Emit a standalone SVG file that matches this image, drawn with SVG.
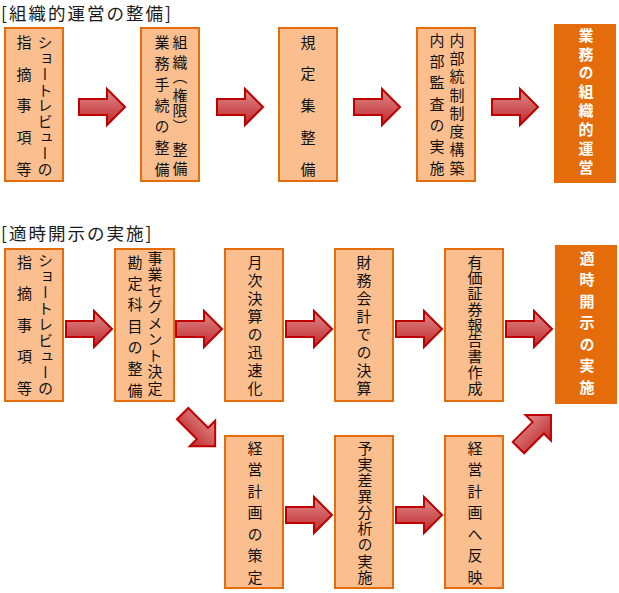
<svg xmlns="http://www.w3.org/2000/svg" xmlns:xlink="http://www.w3.org/1999/xlink" width="619" height="593" viewBox="0 0 619 593">
<style>
.title{font-family:"Noto Sans CJK JP","Noto Sans",sans-serif;font-size:17.5px;letter-spacing:2px;fill:#1a1a1a}
.box{fill:#FBBF8F;stroke:#E46C0A;stroke-width:2}
.dbox{fill:#E46C0A}
.vt{font-family:"Noto Sans CJK JP",sans-serif;font-size:15px;fill:#111;writing-mode:vertical-rl;text-anchor:middle}
.vw{font-family:"Noto Sans CJK JP",sans-serif;font-size:15px;font-weight:bold;fill:#fff;writing-mode:vertical-rl;text-anchor:middle}
.arr{fill:url(#ag);stroke:#C00000;stroke-width:2;stroke-linejoin:miter}
</style>
<defs>
<linearGradient id="ag" x1="0" y1="0" x2="0" y2="1">
<stop offset="0" stop-color="#DE8C8C"/>
<stop offset="1" stop-color="#C0282C"/>
</linearGradient>
<path id="arrow" class="arr" d="M0,-8 H28 V-18 L46,0 L28,18 V8 H0 Z"/>
</defs>
<rect width="619" height="593" fill="#fff"/>
<text class="title" x="1" y="19.5">[組織的運営の整備]</text>
<text class="title" x="1" y="240">[適時開示の実施]</text>

<g id="connectors">
<use href="#arrow" x="79" y="107"/>
<use href="#arrow" x="217" y="107"/>
<use href="#arrow" x="354" y="107"/>
<use href="#arrow" x="492" y="107"/>
<use href="#arrow" x="66" y="329"/>
<use href="#arrow" x="176" y="329"/>
<use href="#arrow" x="286" y="329"/>
<use href="#arrow" x="396" y="329"/>
<use href="#arrow" x="506" y="329"/>
<use href="#arrow" x="286" y="515"/>
<use href="#arrow" x="396" y="515"/>
<use href="#arrow" transform="translate(198.9,429.9) rotate(45) translate(-23,0)"/>
<use href="#arrow" transform="translate(534.7,431.3) rotate(-45) translate(-23,0)"/>
</g>

<g id="n1">
<rect class="box" x="5" y="28" width="58" height="153"/>
<text class="vt" x="45" y="42 58 74 90 105.5 121 137 153 169">ショートレビューの</text>
<text class="vt" x="24" y="42 74 105.5 137 169">指摘事項等</text>
</g>
<g id="n2">
<rect class="box" x="141" y="28" width="58" height="153"/>
<text class="vt" x="180" y="42 62 76 95 110 126 149 168">組織（権限）整備</text>
<text class="vt" x="162" y="42 63.2 84.3 105.5 126.7 147.8 169">業務手続の整備</text>
</g>
<g id="n3">
<rect class="box" x="279" y="28" width="58" height="153"/>
<text class="vt" x="308" y="42 73.75 105.5 137.25 169">規定集整備</text>
</g>
<g id="n4">
<rect class="box" x="417" y="28" width="58" height="153"/>
<text class="vt" x="457" y="40 58.3 76.6 94.9 113.1 131.4 149.7 168">内部統制制度構築</text>
<text class="vt" x="437" y="40 61.3 82.7 104 125.3 146.7 168">内部監査の実施</text>
</g>
<g id="n5">
<rect class="dbox" x="554" y="24" width="62" height="159"/>
<text class="vw" x="586" y="35 53.9 72.7 91.6 110.4 129.3 148.1 167">業務の組織的運営</text>
</g>

<g id="m1">
<rect class="box" x="5" y="249" width="58" height="152"/>
<text class="vt" x="45.5" y="260 276 292 308 324 340 356 372 388">ショートレビューの</text>
<text class="vt" x="24.5" y="262 293.5 325 356.5 388">指摘事項等</text>
</g>
<g id="m2">
<rect class="box" x="115" y="249" width="59" height="152"/>
<text class="vt" x="155" y="258 274.25 290.5 306.75 323 339.25 355.5 371.75 388">事業セグメント決定</text>
<text class="vt" x="135" y="262 283.3 304.7 326 347.3 368.7 390">勘定科目の整備</text>
</g>
<g id="m3">
<rect class="box" x="225" y="249" width="58" height="152"/>
<text class="vt" x="255" y="262 280 298 316 334 352 370 388">月次決算の迅速化</text>
</g>
<g id="m4">
<rect class="box" x="335" y="249" width="58" height="152"/>
<text class="vt" x="364" y="262 280 298 316 334 352 370 388">財務会計での決算</text>
</g>
<g id="m5">
<rect class="box" x="445" y="249" width="58" height="152"/>
<text class="vt" x="475" y="262 277.75 293.5 309.25 325 340.75 356.5 372.25 388">有価証券報告書作成</text>
</g>
<g id="m6">
<rect class="dbox" x="555" y="245" width="62" height="159"/>
<text class="vw" x="587" y="258 279.5 301 322.5 344 365.5 387">適時開示の実施</text>
</g>

<g id="b1">
<rect class="box" x="225" y="436" width="58" height="152"/>
<text class="vt" x="255" y="448 469.5 491 512.5 534 555.5 577">経営計画の策定</text>
</g>
<g id="b2">
<rect class="box" x="335" y="436" width="58" height="152"/>
<text class="vt" x="365" y="448 464.1 480.25 496.4 512.5 528.6 544.75 560.9 577">予実差異分析の実施</text>
</g>
<g id="b3">
<rect class="box" x="445" y="436" width="58" height="152"/>
<text class="vt" x="475" y="448 469.5 491 512.5 534 555.5 577">経営計画へ反映</text>
</g>
</svg>
